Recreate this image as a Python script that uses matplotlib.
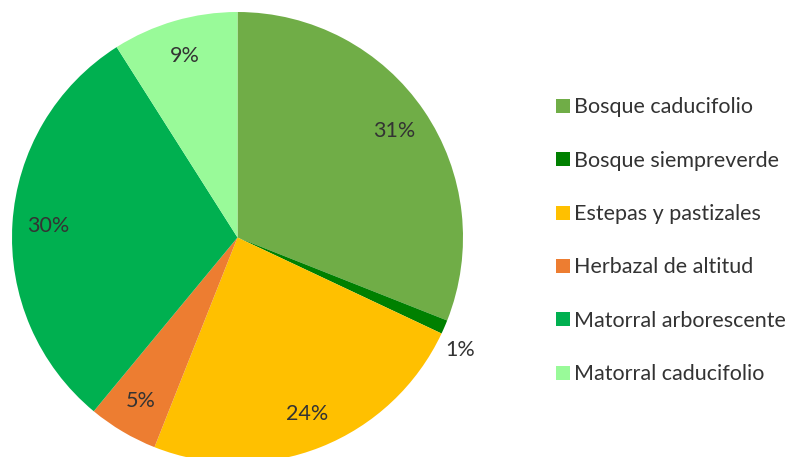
import matplotlib.pyplot as plt
from matplotlib.patches import Patch

plt.rcParams['font.family'] = ['Lato', 'DejaVu Sans']

categorias = ['Bosque caducifolio', 'Bosque siempreverde', 'Estepas y pastizales',
              'Herbazal de altitud', 'Matorral arborescente', 'Matorral caducifolio']
porcentajes = [31, 1, 24, 5, 30, 9]
colores = ['#70AD47', '#008000', '#FFC000', '#ED7D31', '#00B050', '#99FA99']

fig = plt.figure(figsize=(7.95, 4.57), dpi=100)
ax = fig.add_axes([12 / 795, -6 / 457, 451 / 795, 451 / 457])

wedges, textos, autotextos = ax.pie(
    porcentajes, colors=colores, startangle=90, counterclock=False,
    autopct='%1.0f%%', pctdistance=0.84,
    wedgeprops=dict(linewidth=0),
    textprops=dict(color='#333333', fontsize=15.5),
)
# the 1% slice is too thin for its label, put it outside
autotextos[1].set_position((1.11 * 0.89, -1.11 * 0.45))
ax.set_xlim(-1, 1)
ax.set_ylim(-1, 1)

handles = [Patch(facecolor=c, edgecolor='none') for c in colores]
fig.legend(handles, categorias, loc='upper left', bbox_to_anchor=(537 / 795, 1 - 78 / 457),
           frameon=False, fontsize=15.5, labelspacing=1.55,
           handlelength=0.62, handleheight=0.62, handletextpad=0.2,
           labelcolor='#333333')

fig.savefig('out.png', dpi=100)
